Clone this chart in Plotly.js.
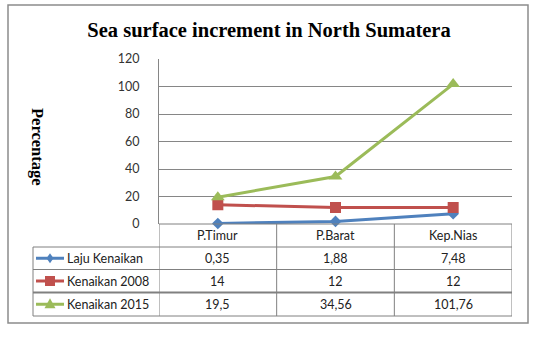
<!DOCTYPE html>
<html>
<head>
<meta charset="utf-8">
<script src="https://cdn.plot.ly/plotly-3.0.1.min.js"></script>
<style>html,body{margin:0;padding:0;background:#fff}</style>
</head>
<body>
<div id="chart" style="width:542px;height:338px"></div>
<script>
// ---- data ----
var categories = ["P.Timur", "P.Barat", "Kep.Nias"];
var seriesNames = ["Laju Kenaikan", "Kenaikan 2008", "Kenaikan 2015"];
var lajuKenaikan = [0.35, 1.88, 7.48];
var kenaikan2008 = [14, 12, 12];
var kenaikan2015 = [19.5, 34.56, 101.76];
var yTicks = [0, 20, 40, 60, 80, 100, 120];
var titleText = "Sea surface increment in North Sumatera";
var yTitleText = "Percentage";

// ---- layout helpers (pixel -> paper) ----
var W = 542, H = 338;
function px(x) { return x / W; }
function py(y) { return (H - y) / H; }

var colors = ["#4F81BD", "#C0504D", "#9BBB59"];
var symbols = ["diamond", "square", "triangle-up"];
var sizes = [9, 11, 12];
var allSeries = [lajuKenaikan, kenaikan2008, kenaikan2015];
var xIdx = categories.map(function (c, i) { return i; });

var traces = allSeries.map(function (vals, s) {
  return {
    type: "scatter", mode: "lines+markers",
    x: xIdx, y: vals, name: seriesNames[s],
    line: { color: colors[s], width: 3 },
    marker: { color: colors[s], symbol: symbols[s], size: sizes[s] },
    cliponaxis: false, showlegend: false
  };
});

var plotL = 159, plotR = 512, plotT = 59, plotB = 224;
var headerB = 247;
var rowEdges = [247, 269.5, 292.5, 316];
var tableL = 33;
var gridCol = "#868686";
var tableCol = "#808080";
var textFont = { family: "Lato, 'Open Sans', sans-serif", size: 12.5, color: "#222" };

var shapes = [];
var annotations = [];

// outer chart frame
shapes.push({ type: "rect", xref: "paper", yref: "paper",
  x0: px(8), x1: px(528), y0: py(323), y1: py(5),
  line: { color: "#8c8c8c", width: 1.5 }, layer: "below" });

// table vertical lines at category boundaries (data x)
for (var b = -0.5; b <= categories.length - 0.5 + 1e-9; b += 1) {
  shapes.push({ type: "line", xref: "x", yref: "paper",
    x0: b, x1: b, y0: py(rowEdges[rowEdges.length - 1]), y1: py(plotB),
    line: { color: tableCol, width: 1 } });
}
// header row bottom / row lines
shapes.push({ type: "line", xref: "x", yref: "paper", x0: -0.5, x1: categories.length - 0.5,
  y0: py(plotB), y1: py(plotB), line: { color: tableCol, width: 1 } });
rowEdges.forEach(function (e, i) {
  shapes.push({ type: "line", xref: "paper", yref: "paper",
    x0: px(tableL), x1: px(plotR), y0: py(e), y1: py(e),
    line: { color: tableCol, width: i === 2 ? 2 : 1 } });
});
// left column vertical border
shapes.push({ type: "line", xref: "paper", yref: "paper",
  x0: px(tableL), x1: px(tableL), y0: py(rowEdges[0]), y1: py(rowEdges[3]),
  line: { color: tableCol, width: 1 } });

// category headers
categories.forEach(function (c, i) {
  annotations.push({ xref: "x", yref: "paper", x: i, y: py((plotB + headerB) / 2),
    text: c, showarrow: false, font: textFont, xanchor: "center", yanchor: "middle" });
});

function fmt(v) { return String(v).replace(".", ","); }

// series rows: legend key + label + values
allSeries.forEach(function (vals, s) {
  var cy = (rowEdges[s] + rowEdges[s + 1]) / 2;
  // key line
  shapes.push({ type: "line", xref: "paper", yref: "paper",
    x0: px(36), x1: px(64), y0: py(cy), y1: py(cy),
    line: { color: colors[s], width: 3 } });
  // key marker
  var mx = 50;
  if (s === 0) {
    shapes.push({ type: "path", xref: "paper", yref: "paper",
      path: "M" + px(mx) + "," + py(cy - 5) + " L" + px(mx + 3.5) + "," + py(cy) +
            " L" + px(mx) + "," + py(cy + 5) + " L" + px(mx - 3.5) + "," + py(cy) + " Z",
      fillcolor: colors[s], line: { color: colors[s], width: 0 } });
  } else if (s === 1) {
    shapes.push({ type: "rect", xref: "paper", yref: "paper",
      x0: px(mx - 5), x1: px(mx + 5), y0: py(cy + 5), y1: py(cy - 5),
      fillcolor: colors[s], line: { color: colors[s], width: 0 } });
  } else {
    shapes.push({ type: "path", xref: "paper", yref: "paper",
      path: "M" + px(mx) + "," + py(cy - 6) + " L" + px(mx + 5.5) + "," + py(cy + 4) +
            " L" + px(mx - 5.5) + "," + py(cy + 4) + " Z",
      fillcolor: colors[s], line: { color: colors[s], width: 0 } });
  }
  annotations.push({ xref: "paper", yref: "paper", x: px(65), y: py(cy),
    text: seriesNames[s], showarrow: false, font: textFont, xanchor: "left", yanchor: "middle" });
  vals.forEach(function (v, i) {
    annotations.push({ xref: "x", yref: "paper", x: i, y: py(cy),
      text: fmt(v), showarrow: false, font: textFont, xanchor: "center", yanchor: "middle" });
  });
});

// y axis title (rotated, reading top to bottom)
annotations.push({ xref: "paper", yref: "paper", x: px(38), y: py(147),
  text: "<b>" + yTitleText + "</b>", textangle: 90, showarrow: false,
  font: { family: "'Liberation Serif', 'Times New Roman', serif", size: 16.5, color: "#000" },
  xanchor: "center", yanchor: "middle" });

var layout = {
  width: W, height: H,
  margin: { l: 0, r: 0, t: 0, b: 0 },
  paper_bgcolor: "#ffffff", plot_bgcolor: "#ffffff",
  showlegend: false,
  title: { text: "<b>" + titleText + "</b>", xref: "paper", yref: "paper",
    x: px(269), y: py(30), xanchor: "center", yanchor: "middle",
    font: { family: "'Liberation Serif', 'Times New Roman', serif", size: 20.5, color: "#000" } },
  xaxis: {
    domain: [px(plotL), px(plotR)],
    range: [-0.5, categories.length - 0.5],
    showgrid: false, zeroline: false, showticklabels: false, ticks: "",
    showline: false, fixedrange: true
  },
  yaxis: {
    domain: [py(plotB), py(plotT)],
    range: [0, 120], tickvals: yTicks, ticktext: yTicks.map(String),
    showgrid: true, gridcolor: gridCol, gridwidth: 1,
    zeroline: false, showline: true, linecolor: gridCol, linewidth: 1,
    ticks: "", ticklabelstandoff: 16,
    tickfont: { family: "Lato, 'Open Sans', sans-serif", size: 12.5, color: "#333" },
    fixedrange: true
  },
  shapes: shapes,
  annotations: annotations
};

Plotly.newPlot("chart", traces, layout, { displayModeBar: false, staticPlot: true });
</script>
</body>
</html>
